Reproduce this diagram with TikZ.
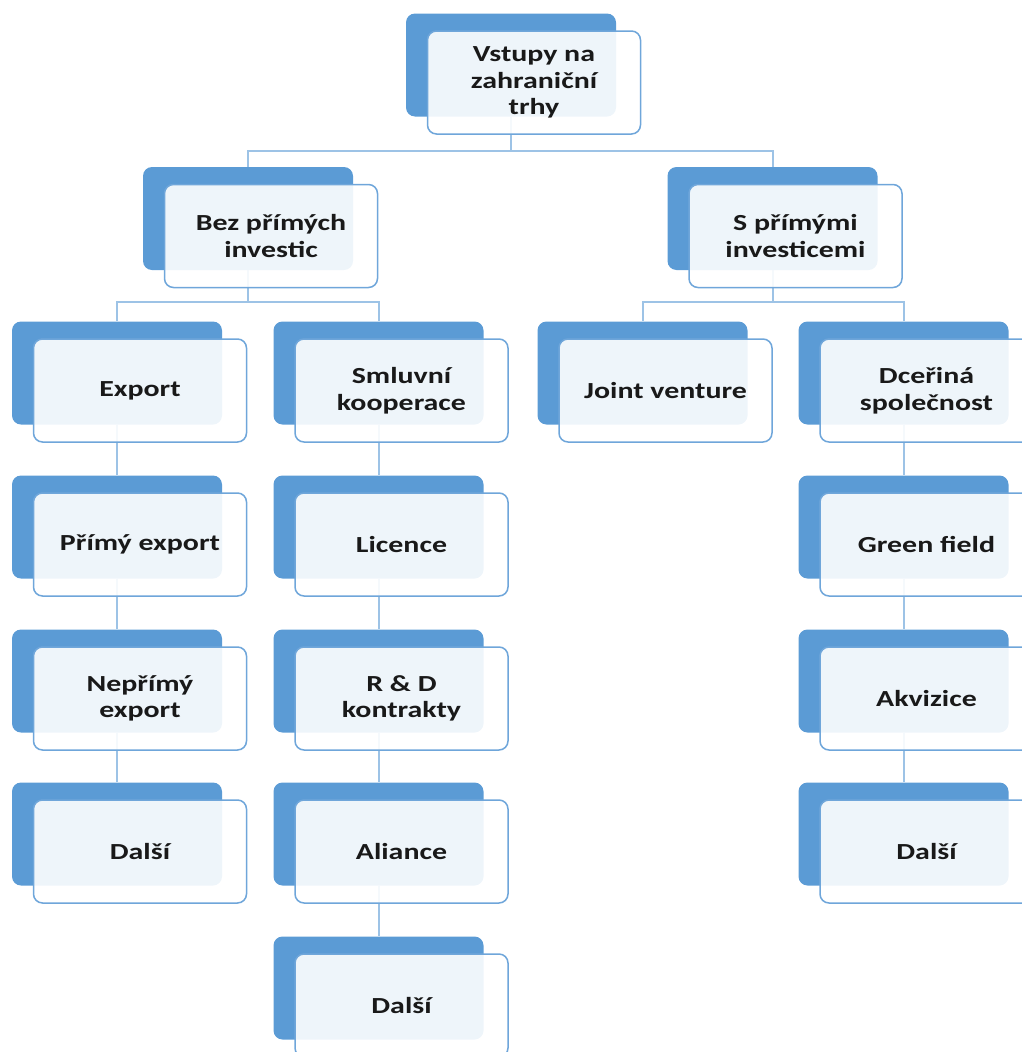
\documentclass[tikz,border=0pt]{standalone}
\usepackage{fontspec}
\setmainfont{Carlito}[FakeStretch=1.3]
\usetikzlibrary{positioning}

\definecolor{boxblue}{HTML}{5B9BD5}
\definecolor{edgeblue}{HTML}{6FA6DA}
\definecolor{linkblue}{HTML}{9DC3E6}

\pgfdeclarelayer{bg}
\pgfsetlayers{bg,main}

\tikzset{
  back/.style={rectangle, rounded corners=9pt, fill=boxblue, minimum width=210pt, minimum height=103pt, inner sep=0pt},
  front/.style={rectangle, rounded corners=9pt, draw=edgeblue, line width=1.5pt, fill=white, fill opacity=0.9, text opacity=1, minimum width=213pt, minimum height=103pt, align=center, text=black!90, font=\bfseries\fontsize{23}{26.5}\selectfont},
  link/.style={draw=linkblue, line width=2pt}
}

% back box plus the front box with the text
\newcommand{\pairbox}[3]{%
  \node[back] (#1) at (#2) {};
  \node[front, xshift=23pt, yshift=-17.5pt] (#1F) at (#1) {#3};}

\begin{document}
\begin{tikzpicture}[x=1pt, y=-1pt]
  \useasboundingbox (0,0) rectangle (1022,1052);

  \pairbox{root}{511,65}{Vstupy na\\zahraniční\\trhy}

  \pairbox{bez}{248,218.5}{Bez přímých\\investic}
  \pairbox{spr}{772.5,218.5}{S přímými\\investicemi}

  \pairbox{export}{117,373}{Export}
  \pairbox{smluv}{378.5,373}{Smluvní\\kooperace}
  \pairbox{joint}{642.5,373}{Joint venture}
  \pairbox{dcer}{903.5,373}{Dceřiná\\společnost}

  \pairbox{primy}{117,527}{Přímý export}
  \pairbox{licence}{378.5,527}{Licence}
  \pairbox{green}{903.5,527}{Green field}

  \pairbox{neprimy}{117,681}{Nepřímý\\export}
  \pairbox{rd}{378.5,681}{R \& D\\kontrakty}
  \pairbox{akviz}{903.5,681}{Akvizice}

  \pairbox{dalsiA}{117,834}{Další}
  \pairbox{aliance}{378.5,834}{Aliance}
  \pairbox{dalsiC}{903.5,834}{Další}

  \pairbox{dalsiB}{378.5,988}{Další}

  \begin{pgfonlayer}{bg}
    \draw[link] (root.south) -- ++(0,34) -| (bez.north);
    \draw[link] (root.south) -- ++(0,34) -| (spr.north);
    \draw[link] (bez.south) -- ++(0,32) -| (export.north);
    \draw[link] (bez.south) -- ++(0,32) -| (smluv.north);
    \draw[link] (spr.south) -- ++(0,32) -| (joint.north);
    \draw[link] (spr.south) -- ++(0,32) -| (dcer.north);
    \foreach \a/\b in {export/primy, primy/neprimy, neprimy/dalsiA,
        smluv/licence, licence/rd, rd/aliance, aliance/dalsiB,
        dcer/green, green/akviz, akviz/dalsiC}
      \draw[link] (\a.south) -- (\b.north);
  \end{pgfonlayer}
\end{tikzpicture}
\end{document}
